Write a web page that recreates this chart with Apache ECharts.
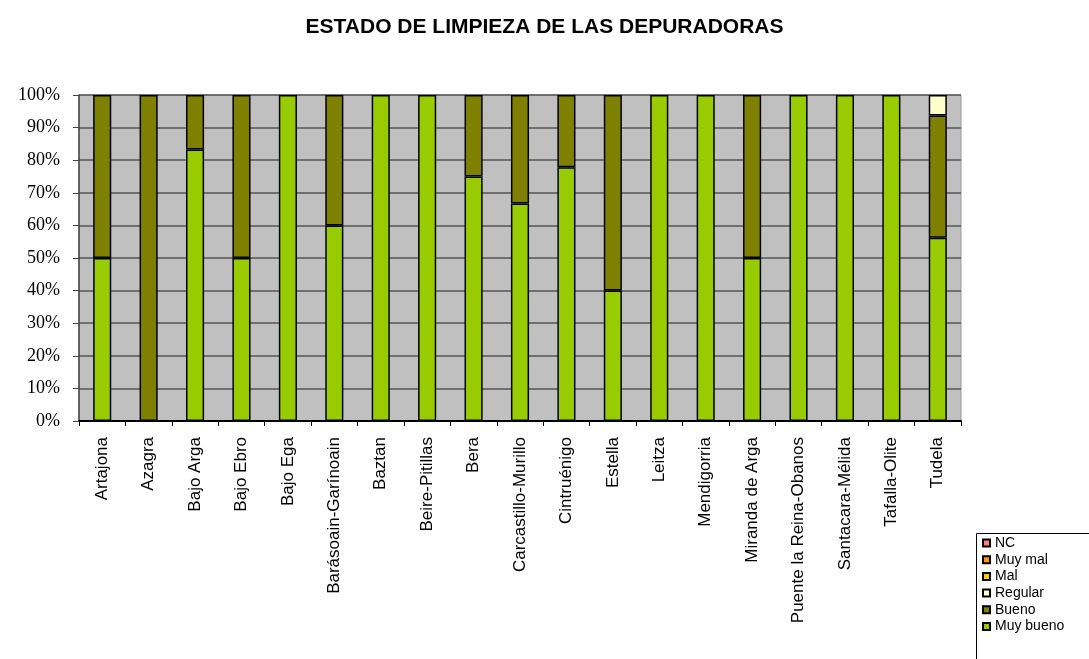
<!DOCTYPE html>
<html>
<head>
<meta charset="utf-8">
<script src="https://cdn.jsdelivr.net/npm/echarts@6/dist/echarts.min.js"></script>
<style>
  html, body { margin: 0; padding: 0; background: #fff; }
  #chart { width: 1089px; height: 659px; }
</style>
</head>
<body>
<div id="chart"></div>
<script>
// depuradoras
var categories = ['Artajona', 'Azagra', 'Bajo Arga', 'Bajo Ebro', 'Bajo Ega', 'Barásoain-Garínoain',
  'Baztan', 'Beire-Pitillas', 'Bera', 'Carcastillo-Murillo', 'Cintruénigo', 'Estella', 'Leitza',
  'Mendigorria', 'Miranda de Arga', 'Puente la Reina-Obanos', 'Santacara-Mélida', 'Tafalla-Olite', 'Tudela'];

// porcentajes por estado
var muyBueno = [50, 0, 83.3, 50, 100, 60, 100, 100, 75, 66.7, 77.8, 40, 100, 100, 50, 100, 100, 100, 56.25];
var bueno    = [50, 100, 16.7, 50, 0, 40, 0, 0, 25, 33.3, 22.2, 60, 0, 0, 50, 0, 0, 0, 37.5];
var regular  = [0, 0, 0, 0, 0, 0, 0, 0, 0, 0, 0, 0, 0, 0, 0, 0, 0, 0, 6.25];
var mal      = [0, 0, 0, 0, 0, 0, 0, 0, 0, 0, 0, 0, 0, 0, 0, 0, 0, 0, 0];
var muyMal   = [0, 0, 0, 0, 0, 0, 0, 0, 0, 0, 0, 0, 0, 0, 0, 0, 0, 0, 0];
var nc       = [0, 0, 0, 0, 0, 0, 0, 0, 0, 0, 0, 0, 0, 0, 0, 0, 0, 0, 0];

var seriesNames = ['Muy bueno', 'Bueno', 'Regular', 'Mal', 'Muy mal', 'NC'];
var seriesData = [muyBueno, bueno, regular, mal, muyMal, nc];
var seriesColors = ['#99CC00', '#808000', '#FFFFCC', '#FFCC00', '#FF9900', '#FF8080'];

var myChart = echarts.init(document.getElementById('chart'));

var series = seriesNames.map(function (name, i) {
  return {
    name: name,
    type: 'bar',
    stack: 'total',
    barWidth: '39%',
    itemStyle: { color: seriesColors[i], borderColor: '#000', borderWidth: 1.5 },
    // los ceros no se dibujan
    data: seriesData[i].map(function (v) { return v === 0 ? '-' : v })
  }
})

var options = {
  animation: false,
  title: {
    text: 'ESTADO DE LIMPIEZA DE LAS DEPURADORAS',
    left: 'center',
    top: 12,
    textStyle: { fontFamily: 'Liberation Sans', fontSize: 21, fontWeight: 'bold', color: '#000' }
  },
  // marco de la leyenda (se sale del lienzo como en el original)
  graphic: [{
    type: 'rect',
    left: 976,
    top: 533,
    shape: { width: 140, height: 140 },
    style: { fill: '#fff', stroke: '#000', lineWidth: 1 }
  }],
  legend: {
    orient: 'vertical',
    left: 976,
    top: 533,
    padding: [3, 6, 0, 6],
    itemWidth: 7,
    itemHeight: 7,
    itemGap: 2.7,
    icon: 'rect',
    data: seriesNames.slice().reverse(),
    textStyle: { fontFamily: 'Liberation Sans', fontSize: 14, lineHeight: 14, color: '#000' }
  },
  grid: {
    left: 79,
    right: 128,
    top: 95,
    bottom: 238,
    show: true,
    backgroundColor: '#C0C0C0',
    borderWidth: 1,
    borderColor: '#999'
  },
  xAxis: {
    type: 'category',
    data: categories,
    axisLine: { lineStyle: { color: '#000', width: 2 } },
    axisTick: { show: true, length: 5, lineStyle: { color: '#000' } },
    axisLabel: {
      rotate: 90,
      interval: 0,
      margin: 16,
      fontFamily: 'Liberation Sans',
      fontSize: 17,
      color: '#000'
    }
  },
  yAxis: {
    type: 'value',
    min: 0,
    max: 100,
    interval: 10,
    axisLine: { show: true, lineStyle: { color: '#444', width: 1.5 } },
    axisTick: { show: true, inside: false, length: 6, lineStyle: { color: '#444' } },
    splitLine: { lineStyle: { color: '#555', width: 1.5 } },
    axisLabel: {
      formatter: '{value}%',
      margin: 19,
      fontFamily: 'Liberation Serif',
      fontSize: 18,
      color: '#000'
    }
  },
  series: series
}

myChart.setOption(options)
</script>
</body>
</html>
